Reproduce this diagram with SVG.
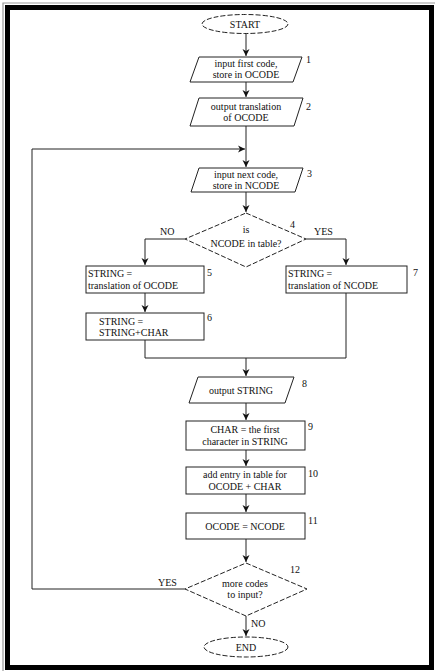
<svg xmlns="http://www.w3.org/2000/svg" width="435" height="671" viewBox="0 0 435 671">
<style>
.s{fill:none;stroke:#222;stroke-width:1}
.d{fill:#fff;stroke:#222;stroke-width:1;stroke-dasharray:5,2}
.b{fill:#fff;stroke:#222;stroke-width:1}
.t{font-family:"Liberation Serif",serif;font-size:10px;fill:#111;text-anchor:middle}
.l{font-family:"Liberation Serif",serif;font-size:10px;fill:#111}
.n{font-family:"Liberation Serif",serif;font-size:10px;fill:#111}
</style>
<defs>
<marker id="ah" markerWidth="8" markerHeight="8" refX="7" refY="4" orient="auto" markerUnits="userSpaceOnUse">
<path d="M0,0.5 L7,4 L0,7.5 L2,4 Z" fill="#111"/>
</marker>
</defs>
<rect width="435" height="671" fill="#fff"/>
<polyline points="3,671 3,3 435,3" fill="none" stroke="#999" stroke-width="1.2"/>
<rect x="7.5" y="7.5" width="424" height="660" fill="none" stroke="#000" stroke-width="5"/>

<g id="connectors">
<line class="s" x1="246" y1="33" x2="246" y2="56" marker-end="url(#ah)"/>
<line class="s" x1="246" y1="82" x2="246" y2="97" marker-end="url(#ah)"/>
<line class="s" x1="246" y1="126" x2="246" y2="167" marker-end="url(#ah)"/>
<line class="s" x1="246" y1="192" x2="246" y2="212" marker-end="url(#ah)"/>
<polyline class="s" points="185,239 145,239 145,265" marker-end="url(#ah)"/>
<polyline class="s" points="306,239 346,239 346,265" marker-end="url(#ah)"/>
<line class="s" x1="145" y1="293" x2="145" y2="312" marker-end="url(#ah)"/>
<polyline class="s" points="145,340 145,358 346,358 346,293"/>
<line class="s" x1="246" y1="358" x2="246" y2="376" marker-end="url(#ah)"/>
<line class="s" x1="246" y1="403" x2="246" y2="420" marker-end="url(#ah)"/>
<line class="s" x1="246" y1="450" x2="246" y2="466" marker-end="url(#ah)"/>
<line class="s" x1="246" y1="494" x2="246" y2="512" marker-end="url(#ah)"/>
<line class="s" x1="246" y1="539" x2="246" y2="562" marker-end="url(#ah)"/>
<line class="s" x1="246" y1="616" x2="246" y2="636" marker-end="url(#ah)"/>
<polyline class="s" points="185,589 32,589 32,149 245,149" marker-end="url(#ah)"/>
<text class="l" x="160" y="235">NO</text>
<text class="l" x="314" y="235">YES</text>
<text class="l" x="158" y="586">YES</text>
<text class="l" x="251" y="627">NO</text>
</g>

<g id="start">
<ellipse class="d" cx="245" cy="24" rx="43" ry="9.5"/>
<text class="t" x="245" y="28">START</text>
</g>
<g id="n1">
<polygon class="b" points="199,57 302,57 293,82 190,82"/>
<text class="t" x="246" y="67">input first code,</text>
<text class="t" x="246" y="78">store in OCODE</text>
<text class="n" x="306" y="63">1</text>
</g>
<g id="n2">
<polygon class="b" points="199,98 303,98 294,126 190,126"/>
<text class="t" x="246" y="110">output translation</text>
<text class="t" x="246" y="121">of OCODE</text>
<text class="n" x="306" y="110">2</text>
</g>
<g id="n3">
<polygon class="b" points="199,168 303,168 295,192 191,192"/>
<text class="t" x="246" y="178">input next code,</text>
<text class="t" x="246" y="189">store in NCODE</text>
<text class="n" x="307" y="177">3</text>
</g>
<g id="n4">
<polygon class="d" points="246,213 306,239 246,267 185,239"/>
<text class="t" x="246" y="233">is</text>
<text class="t" x="246" y="247">NCODE in table?</text>
<text class="n" x="290" y="228">4</text>
</g>
<g id="n5">
<rect class="b" x="86" y="266" width="118" height="27"/>
<text class="l" x="88" y="277">STRING =</text>
<text class="l" x="88" y="289">translation of OCODE</text>
<text class="n" x="207" y="276">5</text>
</g>
<g id="n6">
<rect class="b" x="86" y="313" width="118" height="27"/>
<text class="l" x="99" y="325">STRING =</text>
<text class="l" x="99" y="336">STRING+CHAR</text>
<text class="n" x="207" y="321">6</text>
</g>
<g id="n7">
<rect class="b" x="286" y="266" width="121" height="27"/>
<text class="l" x="288" y="277">STRING =</text>
<text class="l" x="288" y="289">translation of NCODE</text>
<text class="n" x="413" y="276">7</text>
</g>
<g id="n8">
<polygon class="b" points="198,377 294,377 285,403 189,403"/>
<text class="t" x="241" y="394">output STRING</text>
<text class="n" x="302" y="387">8</text>
</g>
<g id="n9">
<rect class="b" x="186" y="421" width="119" height="29"/>
<text class="t" x="245" y="433">CHAR = the first</text>
<text class="t" x="245" y="445">character in STRING</text>
<text class="n" x="308" y="430">9</text>
</g>
<g id="n10">
<rect class="b" x="186" y="467" width="119" height="27"/>
<text class="t" x="245" y="478">add entry in table for</text>
<text class="t" x="245" y="490">OCODE + CHAR</text>
<text class="n" x="308" y="477">10</text>
</g>
<g id="n11">
<rect class="b" x="186" y="513" width="119" height="26"/>
<text class="t" x="245" y="530">OCODE = NCODE</text>
<text class="n" x="308" y="524">11</text>
</g>
<g id="n12">
<polygon class="d" points="246,563 307,589 246,616 185,589"/>
<text class="t" x="245" y="587">more codes</text>
<text class="t" x="245" y="598">to input?</text>
<text class="n" x="290" y="573">12</text>
</g>
<g id="end">
<ellipse class="d" cx="246" cy="647" rx="42" ry="10"/>
<text class="t" x="246" y="651">END</text>
</g>
</svg>
